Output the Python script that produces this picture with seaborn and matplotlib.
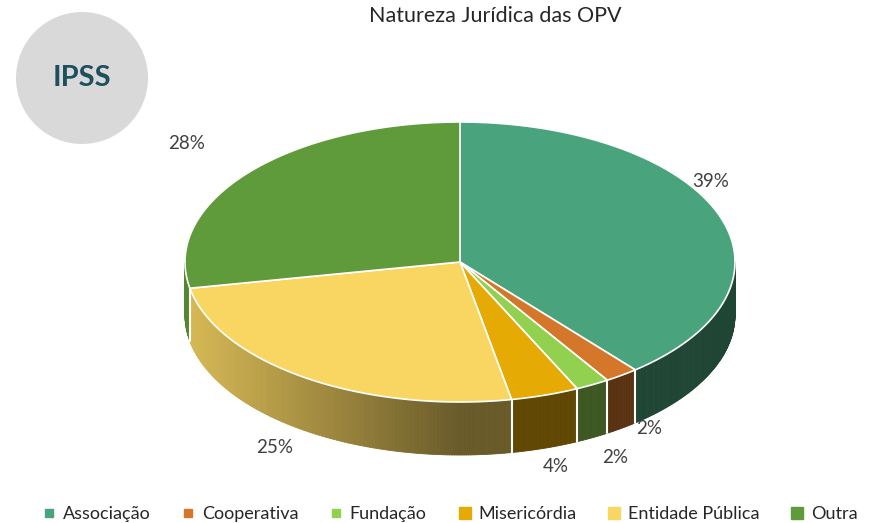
import numpy as np
import matplotlib
matplotlib.use("Agg")
import matplotlib.pyplot as plt
from matplotlib.collections import PolyCollection
from matplotlib.patches import Polygon, Circle
from matplotlib.lines import Line2D
from matplotlib.colors import to_rgb
import seaborn as sns

# dados
categorias = ["Associação", "Cooperativa", "Fundação", "Misericórdia", "Entidade Pública", "Outra"]
valores = [39, 2, 2, 4, 25, 28]
rotulos = ["39%", "2%", "2%", "4%", "25%", "28%"]
cores = ["#49a47e", "#d5772a", "#92d050", "#e5aa04", "#f9d662", "#5f9b3a"]

sns.set_theme(style="white")
plt.rcParams["font.family"] = ["Lato", "DejaVu Sans"]

fig = plt.figure(figsize=(8.74, 5.23), dpi=100)
ax = fig.add_axes([0, 0, 1, 1])
ax.set_xlim(0, 874)
ax.set_ylim(523, 0)
ax.axis("off")

# geometria do "pie 3d"
cx, cy, rx, ry, prof = 460, 262, 275, 140, 53
# fator de posição dos rótulos (fx, fy)
pos_rot = [(0.97, 1.69), (1.17, 1.0), (1.17, 1.16), (1.13, 1.14), (1.2, 1.14), (1.29, 1.33)]

total = sum(valores)
angs = 90 - 360 * np.cumsum([0] + valores) / total  # sentido horário a partir das 12h


def ponto(t, dz=0):
    r = np.radians(t)
    return cx + rx * np.cos(r), cy - ry * np.sin(r) + dz


def fator(t):
    return 0.42 + 0.45 * max(0.0, -np.cos(np.radians(t)))


# laterais (só a metade da frente)
polys, cols = [], []
for i, c in enumerate(cores):
    a0, a1 = angs[i + 1], angs[i]
    for t in np.arange(a0, a1, 0.5):
        tt = t % 360
        if tt < 180:
            continue
        t2 = min(t + 0.5, a1)
        p1, p2 = ponto(t), ponto(t2)
        p3, p4 = ponto(t2, prof), ponto(t, prof)
        polys.append([p1, p2, p3, p4])
        cols.append(np.array(to_rgb(c)) * fator(tt))
ax.add_collection(PolyCollection(polys, facecolors=cols, edgecolors=cols, linewidths=0.6))

# linhas brancas entre fatias na lateral
for a in angs:
    if 180 < a % 360 < 360:
        x, y = ponto(a)
        ax.plot([x, x], [y, y + prof], color="white", lw=1.5)

# topo
for i, c in enumerate(cores):
    ts = np.linspace(angs[i], angs[i + 1], 200)
    pts = [(cx, cy)] + [ponto(t) for t in ts]
    ax.add_patch(Polygon(pts, closed=True, facecolor=c, edgecolor="white", lw=1.2))

# rótulos
for i, r in enumerate(rotulos):
    m = np.radians((angs[i] + angs[i + 1]) / 2)
    fx, fy = pos_rot[i]
    x = cx + rx * fx * np.cos(m)
    y = cy - ry * fy * np.sin(m) + (prof if np.sin(m) < 0 else 0)
    ax.text(x, y, r, ha="center", va="center", fontsize=13.5, color="#404040")

ax.text(495, 16, "Natureza Jurídica das OPV", ha="center", va="center", fontsize=15.5, color="#262626")

# círculo IPSS
ax.add_patch(Circle((82, 78), 66, facecolor="#d9d9d9", edgecolor="none"))
ax.text(82, 78, "IPSS", ha="center", va="center", fontsize=21, fontweight="bold", color="#1f4e5f")

# legenda
tam = [6, 6, 6, 9, 9, 9]
handles = [Line2D([], [], ls="", marker="s", ms=tam[i], color=c) for i, c in enumerate(cores)]
fig.legend(handles, categorias, loc="lower center", ncol=6, frameon=False, fontsize=13,
           handlelength=0.7, handletextpad=0.4, columnspacing=1.75,
           bbox_to_anchor=(0.515, -0.03), labelcolor="#262626")

fig.savefig("out.png", dpi=100)
